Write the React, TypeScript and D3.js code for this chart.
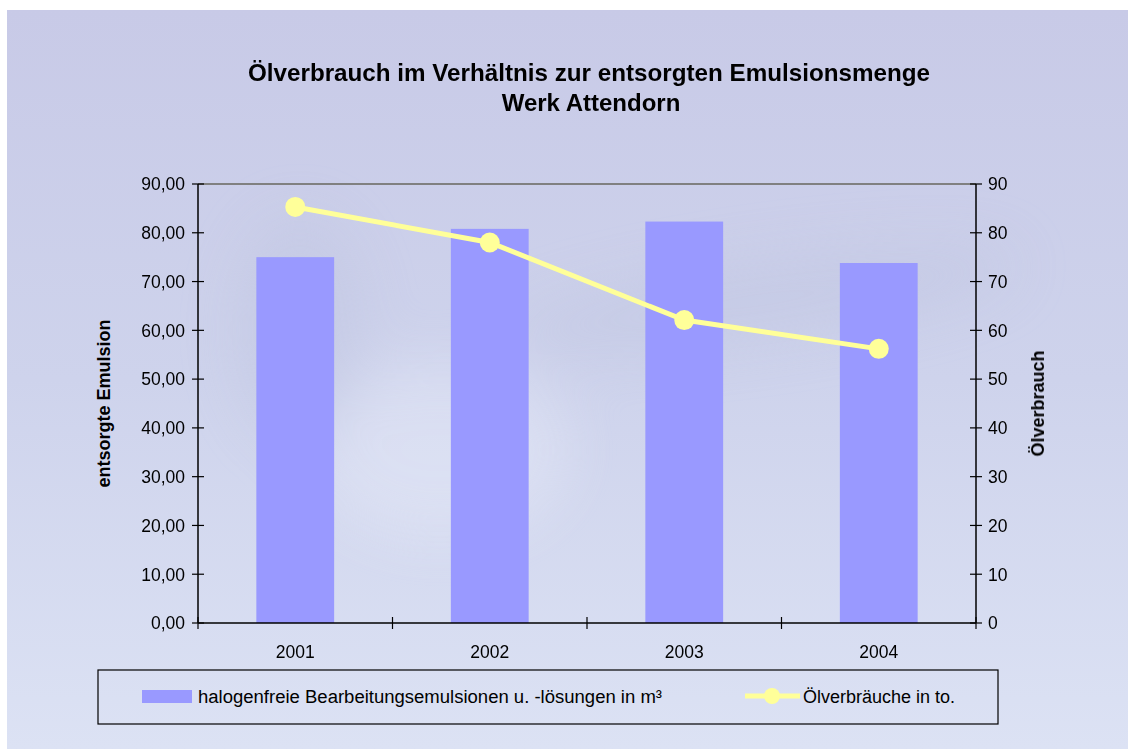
import React from 'react';
import * as d3 from 'd3';

const years = ['2001', '2002', '2003', '2004'];
const emulsion = [75.0, 80.8, 82.3, 73.8]; // m³, left axis
const oil = [85.3, 78.0, 62.1, 56.2]; // to., right axis
const leftTicks = [0, 10, 20, 30, 40, 50, 60, 70, 80, 90];
const rightTicks = [0, 10, 20, 30, 40, 50, 60, 70, 80, 90];

const W = 1128;
const H = 749;
const plot = { left: 198, right: 976, top: 184, bottom: 623 };
const font = '"Liberation Sans", Arial, sans-serif';

const App = () => {
  const x = d3.scaleBand().domain(years).range([plot.left, plot.right]).paddingInner(0.6).paddingOuter(0.3);
  const xEdges = d3.scaleLinear().domain([0, years.length]).range([plot.left, plot.right]);
  const yL = d3.scaleLinear().domain([0, 90]).range([plot.bottom, plot.top]);
  const yR = d3.scaleLinear().domain([0, 90]).range([plot.bottom, plot.top]);
  const cx = (y: string) => (x(y) ?? 0) + x.bandwidth() / 2;

  const line = d3.line<number>()
    .x((_, i) => cx(years[i]))
    .y(d => yR(d));

  return (
    <svg width={W} height={H} style={{ position: 'absolute', left: 0, top: 0, display: 'block' }} fontFamily={font}>
      <defs>
        <linearGradient id="bg" x1="0" y1="0" x2="0" y2="1">
          <stop offset="0" stopColor="#c8cae7" />
          <stop offset="0.5" stopColor="#ced3ec" />
          <stop offset="1" stopColor="#dce2f4" />
        </linearGradient>
        <filter id="blur" x="-50%" y="-50%" width="200%" height="200%">
          <feGaussianBlur stdDeviation="30" />
        </filter>
      </defs>
      <rect x={7} y={10} width={W - 7} height={H - 10} fill="url(#bg)" />
      {/* soft swirl in the background */}
      <g filter="url(#blur)" opacity={0.35}>
        <ellipse cx={440} cy={450} rx={130} ry={90} fill="#eef2fc" />
        <ellipse cx={760} cy={300} rx={260} ry={35} fill="#b9bfdc" transform="rotate(-8 760 300)" />
        <ellipse cx={300} cy={330} rx={60} ry={110} fill="#b9bfdc" />
      </g>

      {/* title */}
      <text x={589} y={81} textAnchor="middle" fontSize={24} fontWeight="bold" fill="#000" textLength={682} lengthAdjust="spacingAndGlyphs">
        Ölverbrauch im Verhältnis zur entsorgten Emulsionsmenge
      </text>
      <text x={591} y={111} textAnchor="middle" fontSize={24} fontWeight="bold" fill="#000">
        Werk Attendorn
      </text>

      {/* top border of plot area */}
      <line x1={plot.left} x2={plot.right} y1={plot.top} y2={plot.top} stroke="#808080" strokeWidth={2} />

      {/* bars */}
      {years.map((yr, i) => (
        <rect key={yr} x={x(yr)} y={yL(emulsion[i])} width={x.bandwidth()} height={plot.bottom - yL(emulsion[i])} fill="#9999ff" />
      ))}

      {/* left axis */}
      <line x1={plot.left} x2={plot.left} y1={plot.top} y2={plot.bottom} stroke="#000" strokeWidth={1.5} />
      {leftTicks.map(t => (
        <g key={t}>
          <line x1={plot.left - 6} x2={plot.left + 6} y1={yL(t)} y2={yL(t)} stroke="#000" strokeWidth={1.2} />
          <text x={plot.left - 13} y={yL(t)} dy="0.36em" textAnchor="end" fontSize={17.5}>
            {d3.format('.2f')(t).replace('.', ',')}
          </text>
        </g>
      ))}

      {/* right axis */}
      <line x1={plot.right} x2={plot.right} y1={plot.top} y2={plot.bottom} stroke="#000" strokeWidth={1.5} />
      {rightTicks.map(t => (
        <g key={t}>
          <line x1={plot.right - 6} x2={plot.right + 6} y1={yR(t)} y2={yR(t)} stroke="#000" strokeWidth={1.2} />
          <text x={plot.right + 12} y={yR(t)} dy="0.36em" textAnchor="start" fontSize={17.5}>
            {t}
          </text>
        </g>
      ))}

      {/* bottom axis */}
      <line x1={plot.left} x2={plot.right} y1={plot.bottom} y2={plot.bottom} stroke="#000" strokeWidth={1.5} />
      {d3.range(years.length + 1).map(i => (
        <line key={i} x1={xEdges(i)} x2={xEdges(i)} y1={plot.bottom - 6} y2={plot.bottom + 6} stroke="#000" strokeWidth={1.2} />
      ))}
      {years.map(yr => (
        <text key={yr} x={cx(yr)} y={658} textAnchor="middle" fontSize={17.5}>{yr}</text>
      ))}

      {/* line series */}
      <path d={line(oil) ?? ''} fill="none" stroke="#ffff99" strokeWidth={5} />
      {oil.map((v, i) => (
        <circle key={i} cx={cx(years[i])} cy={yR(v)} r={10} fill="#ffff99" />
      ))}

      {/* axis titles */}
      <text transform={`translate(110,${(plot.top + plot.bottom) / 2}) rotate(-90)`} textAnchor="middle" fontSize={18} fontWeight="bold">
        entsorgte Emulsion
      </text>
      <text transform={`translate(1044,${(plot.top + plot.bottom) / 2}) rotate(-90)`} textAnchor="middle" fontSize={18} fontWeight="bold">
        Ölverbrauch
      </text>

      {/* legend */}
      <rect x={98} y={670} width={900} height={54} fill="none" stroke="#000" strokeWidth={1.2} />
      <rect x={142} y={690} width={50} height={13} fill="#9999ff" />
      <text x={198} y={703} fontSize={18} textLength={464} lengthAdjust="spacingAndGlyphs">halogenfreie Bearbeitungsemulsionen u. -lösungen in m³</text>
      <line x1={745} x2={800} y1={696} y2={696} stroke="#ffff99" strokeWidth={5} />
      <circle cx={772} cy={696} r={8} fill="#ffff99" />
      <text x={803} y={703} fontSize={18}>Ölverbräuche in to.</text>
    </svg>
  );
};

export default App;
